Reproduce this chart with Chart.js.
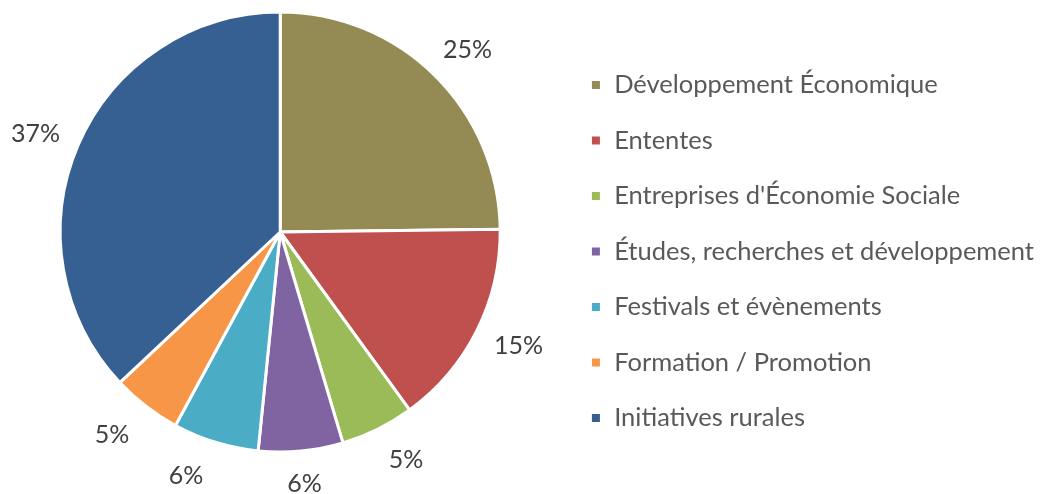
<!DOCTYPE html>
<html>
<head>
<meta charset="utf-8">
<script src="https://cdn.jsdelivr.net/npm/chart.js@4.4.1/dist/chart.umd.min.js"></script>
<style>
  html, body { margin: 0; padding: 0; background: #fff; }
  #wrap { width: 1045px; height: 494px; }
</style>
</head>
<body>
<div id="wrap"><canvas id="c"></canvas></div>
<script>
// pie of spending by program category (share in %)
const categories = [
  'Développement Économique',
  'Ententes',
  "Entreprises d'Économie Sociale",
  'Études, recherches et développement',
  'Festivals et évènements',
  'Formation / Promotion',
  'Initiatives rurales',
];
const shares = [24.8, 15.2, 5.4, 6.2, 6.3, 5.1, 37.0];
const sliceColors = ['#948A54', '#C0504D', '#9BBB59', '#8064A2', '#4BACC6', '#F79646', '#366092'];

const FONT = 'Lato';
// small hand nudges so the crowded bottom labels sit where the original put them
const labelNudge = [[0, -2], [0, 0], [11, 1], [0, 0], [-18, 2], [-10, 3], [0, 2]];

// percent labels placed just outside each slice
const outsideLabels = {
  id: 'outsideLabels',
  afterDatasetsDraw(chart) {
    const meta = chart.getDatasetMeta(0);
    const total = shares.reduce((a, b) => a + b, 0);
    const ctx = chart.ctx;
    ctx.save();
    ctx.font = `25px ${FONT}`;
    ctx.fillStyle = '#404040';
    ctx.textAlign = 'center';
    ctx.textBaseline = 'middle';
    meta.data.forEach((arc, i) => {
      const { x, y, startAngle, endAngle, outerRadius } = arc.getProps(['x', 'y', 'startAngle', 'endAngle', 'outerRadius'], true);
      const mid = (startAngle + endAngle) / 2;
      const txt = Math.round(shares[i] / total * 100) + '%';
      const w = ctx.measureText(txt).width;
      const h = 22;
      const r = outerRadius + 22;
      const cx = x + Math.cos(mid) * r + Math.cos(mid) * w / 2 + labelNudge[i][0];
      const cy = y + Math.sin(mid) * r + Math.sin(mid) * h / 2 + labelNudge[i][1];
      ctx.fillText(txt, cx, cy);
    });
    ctx.restore();
  },
};

new Chart(document.getElementById('c').getContext('2d'), {
  type: 'pie',
  data: {
    labels: categories,
    datasets: [{
      data: shares,
      backgroundColor: sliceColors,
      borderColor: '#ffffff',
      borderWidth: 3,
    }],
  },
  options: {
    responsive: true, maintainAspectRatio: false, animation: false,
    layout: { padding: { left: -5, top: 0, bottom: 30, right: 1 } },
    radius: 220,
    plugins: {
      legend: {
        position: 'right',
        title: { display: true, text: ' ', font: { size: 10 }, padding: 13.5 },
        labels: {
          color: '#595959', boxWidth: 11, boxHeight: 11, padding: 30,
          font: { family: FONT, size: 25.5 },
        },
      },
      tooltip: { enabled: false },
    },
  },
  plugins: [outsideLabels],
});
</script>
</body>
</html>
